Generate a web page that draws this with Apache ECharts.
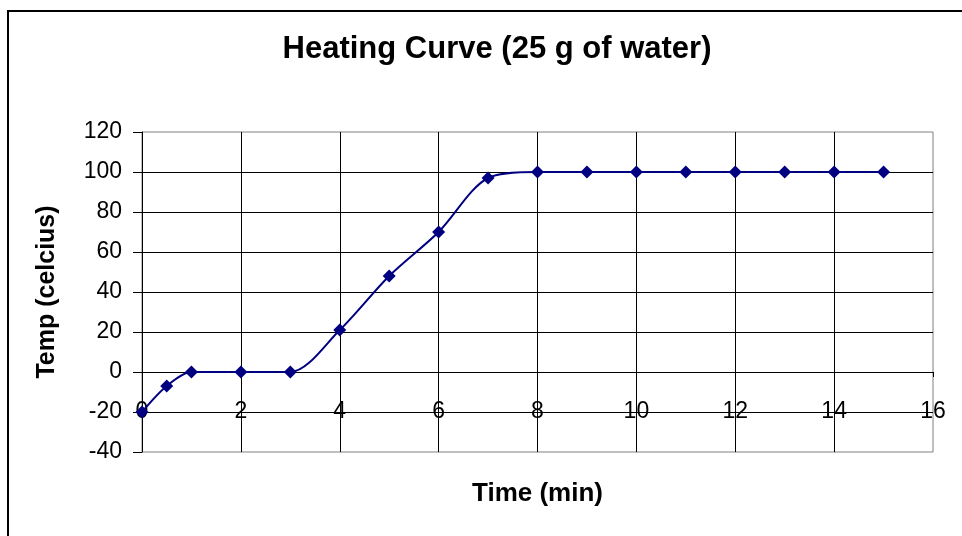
<!DOCTYPE html>
<html>
<head>
<meta charset="utf-8">
<script src="https://cdn.jsdelivr.net/npm/echarts@6/dist/echarts.min.js"></script>
<style>
  html, body { margin: 0; padding: 0; background: #fff; }
  #chart { width: 962px; height: 536px; }
</style>
</head>
<body>
<div id="chart"></div>
<script>
const timeMin = [0, 0.5, 1, 2, 3, 4, 5, 6, 7, 8, 9, 10, 11, 12, 13, 14, 15];
const tempC = [-20, -7, 0, 0, 0, 21, 48, 70, 97, 100, 100, 100, 100, 100, 100, 100, 100];
const xTicks = [0, 2, 4, 6, 8, 10, 12, 14, 16];
const yTicks = [-40, -20, 0, 20, 40, 60, 80, 100, 120];

const chart = echarts.init(document.getElementById("chart"));
const font = "'Liberation Sans', Arial, sans-serif";

chart.setOption({
  animation: false,
  title: {
    text: "Heating Curve (25 g of water)",
    left: 492,
    top: 29,
    textAlign: "center",
    textStyle: { fontFamily: font, fontSize: 31, fontWeight: "bold", color: "#000" },
  },
  graphic: [
    {
      type: "rect",
      shape: { x: 8, y: 11, width: 980, height: 560 },
      style: { fill: "none", stroke: "#000", lineWidth: 2 },
      silent: true,
      z: -10,
    },
  ],
  grid: {
    left: 142,
    top: 132,
    width: 791,
    height: 320,
    outerBoundsMode: "none",
    containLabel: false,
    show: true,
    borderColor: "#808080",
    borderWidth: 1,
    backgroundColor: "#fff",
  },
  xAxis: {
    type: "value",
    min: xTicks[0],
    max: xTicks[xTicks.length - 1],
    interval: 2,
    name: "Time (min)",
    nameLocation: "middle",
    nameGap: 29,
    nameMoveOverlap: false,
    nameTextStyle: { fontFamily: font, fontSize: 26, fontWeight: "bold", color: "#000" },
    axisLine: { onZero: true, lineStyle: { color: "#000", width: 1 } },
    axisTick: { show: true, length: 5, lineStyle: { color: "#000" } },
    axisLabel: { fontFamily: font, fontSize: 23, color: "#000", margin: -52 },
    splitLine: { show: true, showMaxLine: false, lineStyle: { color: "#000", width: 1 } },
  },
  yAxis: {
    type: "value",
    min: yTicks[0],
    max: yTicks[yTicks.length - 1],
    interval: 20,
    name: "Temp (celcius)",
    nameLocation: "middle",
    nameGap: 82,
    nameRotate: 90,
    nameTextStyle: { fontFamily: font, fontSize: 25, fontWeight: "bold", color: "#000" },
    axisLine: { show: true, onZero: false, lineStyle: { color: "#000", width: 1 } },
    axisTick: { show: true, length: 9, lineStyle: { color: "#000" } },
    axisLabel: { fontFamily: font, fontSize: 23, color: "#000", margin: 20 },
    splitLine: { show: true, showMinLine: false, showMaxLine: false, lineStyle: { color: "#000", width: 1 } },
  },
  series: [
    {
      type: "line",
      data: timeMin.map((t, i) => [t, tempC[i]]),
      smooth: 0.3,
      symbol: "diamond",
      symbolSize: 13,
      itemStyle: { color: "#000080" },
      lineStyle: { color: "#000080", width: 2 },
      z: 5,
    },
  ],
});
</script>
</body>
</html>
